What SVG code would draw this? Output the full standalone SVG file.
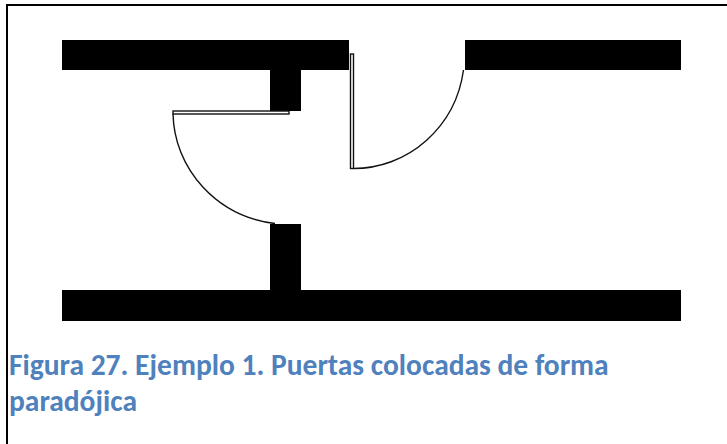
<svg xmlns="http://www.w3.org/2000/svg" width="727" height="444" viewBox="0 0 727 444">
<style>
.wall{fill:#000}
.door{fill:none;stroke:#111;stroke-width:1.4}
.cap{font-family:"Carlito","Open Sans","Liberation Sans",sans-serif;font-weight:700;font-size:29.500px;fill:#4f81bd}
</style>
<rect x="0" y="0" width="727" height="444" fill="#fff"/>
<path d="M7 444V5H727" fill="none" stroke="#000" stroke-width="2"/>
<g id="walls">
<rect class="wall" x="62" y="40" width="287" height="30"/>
<rect class="wall" x="465" y="40" width="216" height="30"/>
<rect class="wall" x="270" y="70" width="31" height="41"/>
<rect class="wall" x="270" y="224" width="31" height="66"/>
<rect class="wall" x="62" y="290" width="619" height="31"/>
</g>
<g id="door-left">
<rect class="door" x="173" y="111" width="116" height="3"/>
<path class="door" d="M173 114A116 113 0 0 0 275 223.500"/>
</g>
<g id="door-right">
<rect class="door" x="350.500" y="54" width="3" height="114.500"/>
<path class="door" d="M353.500 168.500A111 114.500 0 0 0 463.500 70"/>
</g>
<text class="cap" x="9" y="375">Figura 27. Ejemplo 1. Puertas colocadas de forma</text>
<text class="cap" x="9" y="411">paradójica</text>
</svg>
